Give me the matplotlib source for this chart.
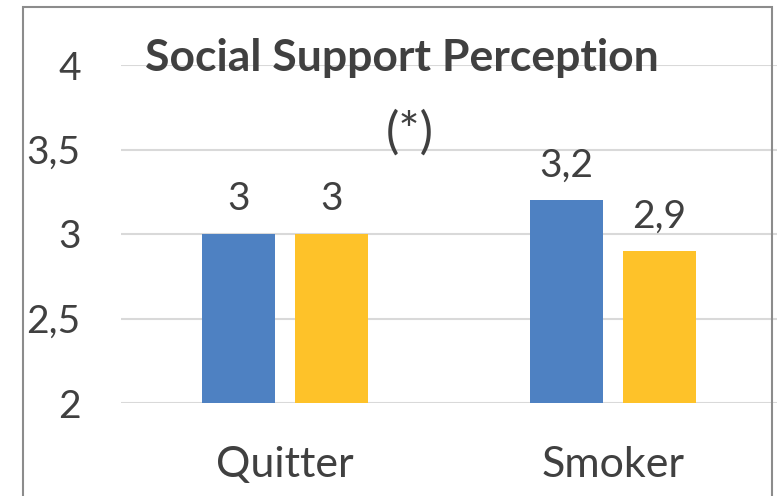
import matplotlib.pyplot as plt
from matplotlib.patches import Rectangle
import numpy as np

# data
categories = ['Quitter', 'Smoker']
series_a = [3.0, 3.2]   # blue
series_b = [3.0, 2.9]   # yellow
labels_a = ['3', '3,2']
labels_b = ['3', '2,9']
yticks = [2, 2.5, 3, 3.5, 4]
ytick_labels = ['2', '2,5', '3', '3,5', '4']

plt.rcParams['font.family'] = ['Lato', 'DejaVu Sans']
text_col = '#404040'
blue = '#4E81C2'
yellow = '#FEC229'

W, H = 779, 496
fig = plt.figure(figsize=(W / 100, H / 100), dpi=100)
ax = fig.add_axes([121 / W, 1 - 403 / H, (777 - 121) / W, (403 - 65) / H])

x = np.arange(len(categories))
width = 0.223
off = 0.142
ax.bar(x - off, np.array(series_a) - 2, width, bottom=2, color=blue, zorder=3)
ax.bar(x + off, np.array(series_b) - 2, width, bottom=2, color=yellow, zorder=3)

ax.set_xlim(-0.5, 1.5)
ax.set_ylim(2, 4)
ax.set_yticks(yticks)
ax.set_yticklabels(ytick_labels, fontsize=28, color=text_col)
ax.set_xticks(x)
ax.set_xticklabels(categories, fontsize=31, color=text_col)
ax.tick_params(length=0)
ax.tick_params(axis='y', pad=29)
ax.tick_params(axis='x', pad=31)
ax.grid(axis='y', color='#D9D9D9', lw=1.5, zorder=0)
for s in ax.spines.values():
    s.set_visible(False)

# value labels
for xs, vals, txts in [(x - off, series_a, labels_a), (x + off, series_b, labels_b)]:
    for xi, v, t in zip(xs, vals, txts):
        ax.annotate(t, (xi, v), xytext=(0, 17), textcoords='offset points',
                    ha='center', va='baseline', fontsize=28, color=text_col)

fig.text(145 / W, 1 - 58 / H, 'Social Support Perception', fontsize=32,
         fontweight='bold', color=text_col, ha='left', va='center')
fig.text(410 / W, 1 - 133 / H, '(*)', fontsize=36, color=text_col,
         ha='center', va='center')

# chart border
fig.patches.append(Rectangle((23 / W, -0.1), (772 - 23) / W, 1 - 7 / H + 0.1,
                             transform=fig.transFigure, fill=False,
                             edgecolor='#8C8C8C', lw=1.5))

fig.savefig('out.png', dpi=100, facecolor='white')
